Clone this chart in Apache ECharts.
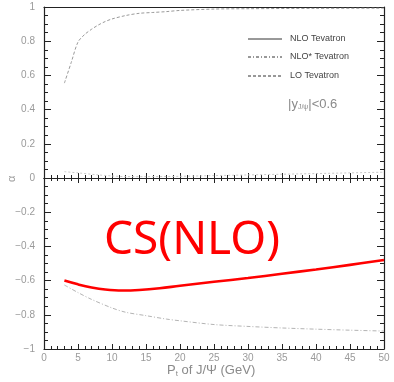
<!DOCTYPE html>
<html>
<head>
<meta charset="utf-8">
<script src="https://cdn.jsdelivr.net/npm/echarts@6/dist/echarts.min.js"></script>
<style>html,body{margin:0;padding:0;background:#fff}#c{width:394px;height:382px}</style>
</head>
<body>
<div id="c"></div>
<script>
// ---- data ----
var xLOtop = [3,4,5,6,7,8,9,10,12,14,16,18,20,25,30,40,50];
var yLOtop = [0.555,0.675,0.795,0.84,0.87,0.895,0.915,0.93,0.95,0.963,0.968,0.973,0.98,0.988,0.99,0.992,0.993];
var xNLOStarTop = [3,5,8,10,12,15,20,25,30,35,40,45,50];
var yNLOStarTop = [0.037,0.03,0.018,0.012,0.008,0.008,0.01,0.014,0.018,0.022,0.026,0.03,0.034];
var xNLOBot = [3,5,7,9,11.5,14,17,20,25,30,35,40,45,50];
var yNLOBot = [-0.6,-0.622,-0.64,-0.652,-0.658,-0.655,-0.645,-0.63,-0.607,-0.585,-0.56,-0.535,-0.508,-0.48];
var xGrayBot = [3,5,7,10,12,15,18,20,25,30,35,40,45,50];
var yGrayBot = [-0.626,-0.67,-0.71,-0.76,-0.785,-0.805,-0.825,-0.835,-0.857,-0.868,-0.877,-0.884,-0.89,-0.895];
var legendNames = ['NLO Tevatron','NLO* Tevatron','LO Tevatron'];
var xTicks = [0,5,10,15,20,25,30,35,40,45,50];

function pairs(xs, ys){ return xs.map(function(x,i){ return [x, ys[i]]; }); }

var axisCol = '#222';
var labCol = '#9a9a9a';
var font = 'Liberation Sans, Arial, sans-serif';

function xAx(grid, pos, showLabel){
  return {
    type:'value', gridIndex:grid, position:pos, min:0, max:50, interval:5,
    axisLine:{show:true, onZero:false, lineStyle:{color:axisCol, width:1.2}},
    axisTick:{show:true, inside:true, length:(pos==='top'&&grid===0)?0:5, lineStyle:{color:axisCol}},
    minorTick:{show:(pos==='top'&&grid===0)?false:true, splitNumber:5, length:3, lineStyle:{color:axisCol}},
    axisLabel:{show:showLabel, color:labCol, fontSize:10, fontFamily:font, margin:4},
    splitLine:{show:false}
  };
}
function yAx(grid, pos, min, max, showLabel){
  return {
    type:'value', gridIndex:grid, position:pos, min:min, max:max, interval:0.2,
    axisLine:{show:true, onZero:false, lineStyle:{color:axisCol, width:1.2}},
    axisTick:{show:true, inside:true, length:7, lineStyle:{color:axisCol}},
    minorTick:{show:true, splitNumber:4, length:4, lineStyle:{color:axisCol}},
    axisLabel:{show:showLabel, color:labCol, fontSize:10, fontFamily:font, margin:9,
      formatter:function(v){
        if (grid===1 && Math.abs(v)<1e-9) return '';
        var s = (Math.round(v*10)/10).toString();
        return s.replace('-', '\u2212');
      }},
    splitLine:{show:false}
  };
}

var chart = echarts.init(document.getElementById('c'), null, {renderer:'canvas'});
chart.setOption({
  animation:false,
  backgroundColor:'#fff',
  grid:[
    {left:44, top:7, width:340, height:171},
    {left:44, top:178, width:340, height:171}
  ],
  xAxis:[
    xAx(0,'bottom',false),
    xAx(0,'top',false),
    xAx(1,'top',false),
    xAx(1,'bottom',true)
  ],
  yAxis:[
    yAx(0,'left',0,1,true),
    yAx(0,'right',0,1,false),
    yAx(1,'left',-1,0,true),
    yAx(1,'right',-1,0,false)
  ],
  series:[
    {type:'line', xAxisIndex:0, yAxisIndex:0, data:pairs(xLOtop,yLOtop), smooth:0.3, showSymbol:false,
     lineStyle:{color:'#9a9a9a', width:1, type:[3,2]}},
    {type:'line', xAxisIndex:0, yAxisIndex:0, data:pairs(xNLOStarTop,yNLOStarTop), smooth:0.3, showSymbol:false,
     lineStyle:{color:'#c8c8c8', width:1, type:[2,2]}},
    {type:'line', xAxisIndex:3, yAxisIndex:2, data:pairs(xGrayBot,yGrayBot), smooth:0.3, showSymbol:false,
     lineStyle:{color:'#b4b4b4', width:1, type:[4,2,1,2]}},
    {type:'line', xAxisIndex:3, yAxisIndex:2, data:pairs(xNLOBot,yNLOBot), smooth:0.4, showSymbol:false,
     lineStyle:{color:'#ff0000', width:2.6}}
  ],
  graphic:[
    {type:'line', shape:{x1:248,y1:39,x2:282,y2:39}, style:{stroke:'#333', lineWidth:1}},
    {type:'line', shape:{x1:248,y1:57,x2:282,y2:57}, style:{stroke:'#333', lineWidth:1, lineDash:[3,2,1,2]}},
    {type:'line', shape:{x1:248,y1:76,x2:282,y2:76}, style:{stroke:'#333', lineWidth:1, lineDash:[3,2]}},
    {type:'text', left:290, top:34, style:{text:legendNames[0], fill:'#444', font:'9px '+font}},
    {type:'text', left:290, top:52, style:{text:legendNames[1], fill:'#444', font:'9px '+font}},
    {type:'text', left:290, top:71, style:{text:legendNames[2], fill:'#444', font:'9px '+font}},
    {type:'text', left:288, top:98, style:{
      text:'{a||y}{s|J/\u03c8}{a||<0.6}', fill:'#8a8a8a',
      rich:{a:{fontSize:13, fontFamily:font, fill:'#8a8a8a'}, s:{fontSize:7, fontFamily:font, fill:'#8a8a8a', verticalAlign:'bottom', padding:[6,0,0,0]}}
    }},
    {type:'text', left:104, top:218, style:{text:'CS(NLO)', fill:'#ff0000', font:'46px "Noto Sans", "Open Sans", sans-serif'}},
    {type:'text', left:167, top:364, style:{
      text:'{a|P}{s|t}{a| of J/\u03a8 (GeV)}',
      rich:{a:{fontSize:13, fontFamily:font, fill:'#8a8a8a'}, s:{fontSize:8, fontFamily:font, fill:'#8a8a8a', verticalAlign:'bottom', padding:[6,0,0,0]}}
    }},
    {type:'text', x:6, y:182, rotation:Math.PI/2, style:{text:'\u03b1', fill:'#9a9a9a', font:'11px '+font}}
  ]
});
</script>
</body>
</html>
